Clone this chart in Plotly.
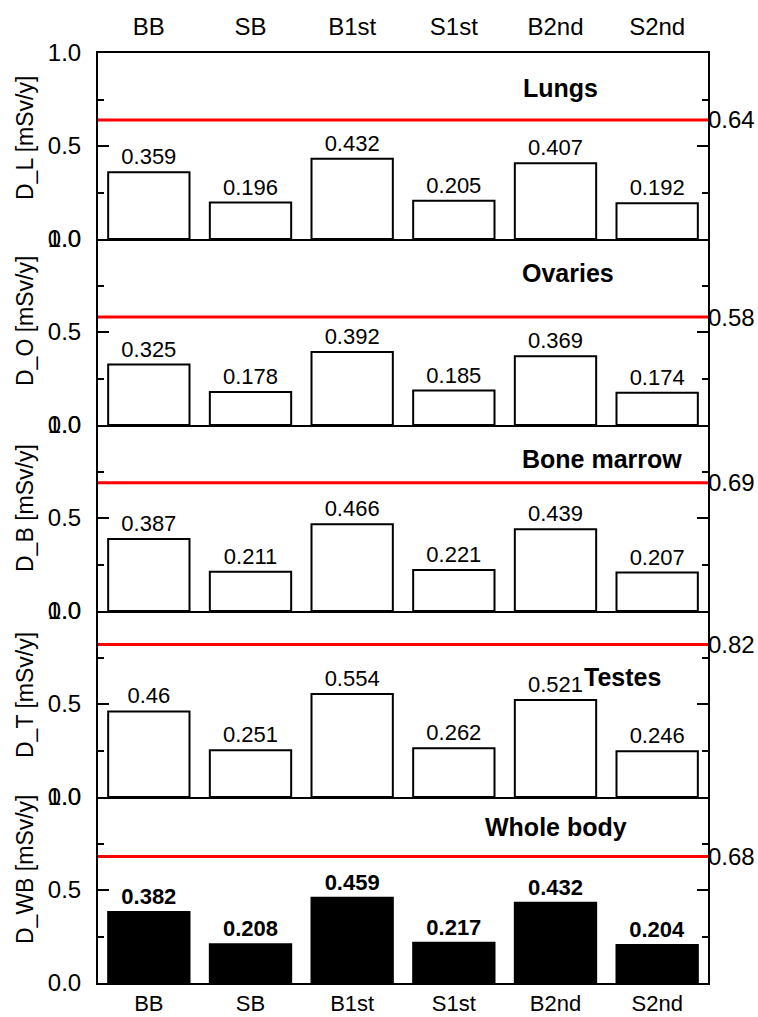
import plotly.graph_objects as go
from plotly.subplots import make_subplots

categories = ["BB", "SB", "B1st", "S1st", "B2nd", "S2nd"]
organs = ["Lungs", "Ovaries", "Bone marrow", "Testes", "Whole body"]
ytitles = ["D_L [mSv/y]", "D_O [mSv/y]", "D_B [mSv/y]", "D_T [mSv/y]", "D_WB [mSv/y]"]
lungs = [0.359, 0.196, 0.432, 0.205, 0.407, 0.192]
ovaries = [0.325, 0.178, 0.392, 0.185, 0.369, 0.174]
bone_marrow = [0.387, 0.211, 0.466, 0.221, 0.439, 0.207]
testes = [0.46, 0.251, 0.554, 0.262, 0.521, 0.246]
whole_body = [0.382, 0.208, 0.459, 0.217, 0.432, 0.204]
limits = [0.64, 0.58, 0.69, 0.82, 0.68]

series = [lungs, ovaries, bone_marrow, testes, whole_body]

# layout helpers (pixels)
W, H = 758, 1017
ML, MR, MT, MB = 98, 50, 53, 34
PH = (H - MT - MB) / 5.0
# organ label centres (px) and y centres (px from top)
label_x = [560, 568, 602, 622, 556]
label_y = [88, 273, 459, 677, 827]

FONT = "Liberation Sans, Arial, sans-serif"

fig = make_subplots(rows=5, cols=1, shared_xaxes=True, vertical_spacing=0)

for i, vals in enumerate(series):
    last = i == 4
    fig.add_trace(
        go.Bar(
            x=categories,
            y=vals,
            width=0.8,
            marker=dict(color="black" if last else "white",
                        line=dict(color="black", width=2)),
            text=[str(v) for v in vals],
            textposition="outside",
            cliponaxis=False,
            textfont=dict(size=22, color="black", family=FONT,
                          weight="bold" if last else "normal"),
            showlegend=False,
        ),
        row=i + 1, col=1,
    )

for i in range(5):
    r = i + 1
    fig.update_yaxes(
        range=[0, 1], tickvals=[0, 0.5, 1], ticktext=["0.0", "0.5", "1.0"],
        ticks="inside", ticklen=11, tickwidth=2, tickcolor="black",
        minor=dict(tickvals=[0.25, 0.75], ticks="inside", ticklen=6, tickwidth=2, tickcolor="black"),
        tickfont=dict(size=24, family=FONT, color="black"),
        ticklabelstandoff=10,
        showline=True, linecolor="black", linewidth=2, mirror="ticks",
        showgrid=False, zeroline=False, automargin=False,
        row=r, col=1,
    )
    fig.update_xaxes(
        range=[-0.5, 5.5], ticks="", tickfont=dict(size=24, family=FONT, color="black"),
        showline=True, linecolor="black", linewidth=2, mirror=(r == 1),
        showgrid=False, zeroline=False, automargin=False,
        row=r, col=1,
    )
    yref = "y" if r == 1 else f"y{r}"
    xref = "x" if r == 1 else f"x{r}"
    fig.add_shape(type="line", xref=f"{xref} domain", yref=yref,
                  x0=0, x1=1, y0=limits[i], y1=limits[i],
                  line=dict(color="#ff0000", width=3), layer="above")
    fig.add_annotation(xref="paper", yref=yref, x=1, y=limits[i], xanchor="left",
                       yanchor="middle", text=f"{limits[i]:.2f}", showarrow=False,
                       xshift=-2,
                       font=dict(size=24, family=FONT, color="black"))
    # organ label
    fig.add_annotation(xref="paper", yref="paper",
                       x=(label_x[i] - ML) / (W - ML - MR),
                       y=1 - (label_y[i] - MT) / (H - MT - MB),
                       xanchor="center", yanchor="middle", text=f"<b>{organs[i]}</b>",
                       showarrow=False, font=dict(size=25, family=FONT, color="black"))
    # y title
    bottom_px = MT + PH * (i + 1)
    fig.add_annotation(xref="paper", yref="paper", x=0, y=1 - (bottom_px - MT) / (H - MT - MB),
                       xanchor="center", yanchor="bottom", xshift=25 - ML, yshift=37,
                       text=ytitles[i], textangle=-90, showarrow=False,
                       font=dict(size=23, family=FONT, color="black"))

fig.update_xaxes(showticklabels=True, side="top", ticklabelstandoff=6, row=1, col=1)
fig.update_xaxes(showticklabels=True, ticklabelstandoff=0,
                 tickfont=dict(size=22, family=FONT, color="black"), row=5, col=1)

fig.update_layout(
    width=W, height=H,
    margin=dict(l=ML, r=MR, t=MT, b=MB, autoexpand=False),
    plot_bgcolor="white", paper_bgcolor="white",
    bargap=0.2,
    font=dict(family=FONT, color="black"),
)

fig.write_html("out.html")
